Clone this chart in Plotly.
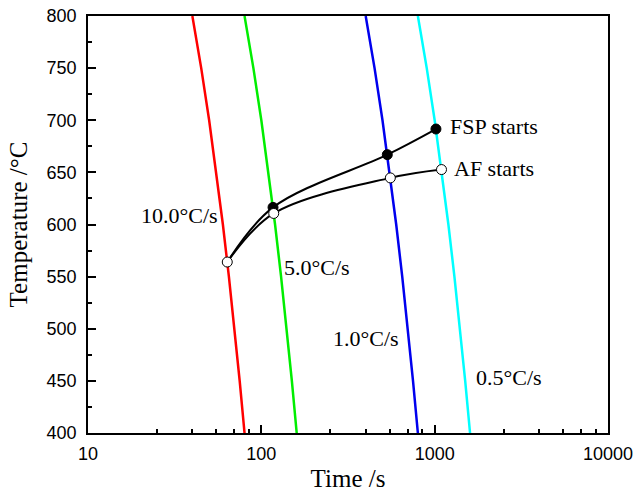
import math
import plotly.graph_objects as go

# Cooling curves: temperature (°C) vs time (s)
temps = [800, 750, 700, 650, 600, 550, 500, 450, 400]
t_10 = [40, 45, 50, 55, 60, 65, 70, 75, 80]
t_5 = [80, 90, 100, 110, 120, 130, 140, 150, 160]
t_1 = [400, 450, 500, 550, 600, 650, 700, 750, 800]
t_05 = [800, 900, 1000, 1100, 1200, 1300, 1400, 1500, 1600]

rate_labels = ["10.0°C/s", "5.0°C/s", "1.0°C/s", "0.5°C/s"]
rate_colors = ["#ff0000", "#00ee00", "#0000ee", "#00ffff"]

# Transformation start points
fsp_t = [63.6, 116.8, 533, 1017]
fsp_T = [564, 616.4, 667, 691.6]
af_t = [63.6, 117.9, 555, 1095]
af_T = [564, 610.6, 644.7, 652.7]

x_tickvals = [10, 100, 1000, 10000]
x_ticktext = ["10", "100", "1000", "10000"]
x_minor = [m * 10 ** e for e in (1, 2, 3) for m in (2.5, 4, 5.5, 7, 8.5)]

fig = go.Figure()
for tt, col in zip([t_10, t_5, t_1, t_05], rate_colors):
    fig.add_trace(go.Scatter(x=tt, y=temps, mode="lines",
                             line=dict(color=col, width=2.5), showlegend=False))

fig.add_trace(go.Scatter(x=fsp_t, y=fsp_T, mode="lines",
                         line=dict(color="black", width=2, shape="spline", smoothing=1),
                         showlegend=False))
fig.add_trace(go.Scatter(x=af_t, y=af_T, mode="lines",
                         line=dict(color="black", width=2, shape="spline", smoothing=1),
                         showlegend=False))
fig.add_trace(go.Scatter(x=fsp_t[1:], y=fsp_T[1:], mode="markers",
                         marker=dict(color="black", size=10, line=dict(color="black", width=1)),
                         showlegend=False))
fig.add_trace(go.Scatter(x=af_t, y=af_T, mode="markers",
                         marker=dict(color="white", size=10, line=dict(color="black", width=1)),
                         showlegend=False))

ann_font = dict(family="Liberation Serif", size=22, color="black")
ann_pos = [(33.5, 609), (209, 559), (404, 491), (2700, 453)]
for txt, (x, y) in zip(rate_labels, ann_pos):
    fig.add_annotation(x=math.log10(x), y=y, text=txt, showarrow=False,
                       xanchor="center", yanchor="middle", font=ann_font)
fig.add_annotation(x=math.log10(1190), y=694, text="FSP starts", showarrow=False,
                   xanchor="left", yanchor="middle", font=ann_font)
fig.add_annotation(x=math.log10(1265), y=654, text="AF starts", showarrow=False,
                   xanchor="left", yanchor="middle", font=ann_font)

tick_font = dict(family="Liberation Sans", size=18, color="black")
title_font = dict(family="Liberation Serif", size=25, color="black")

fig.update_xaxes(type="log", range=[1, 4], tickvals=x_tickvals, ticktext=x_ticktext,
                 ticks="inside", ticklen=8, tickwidth=1.5, tickcolor="black",
                 minor=dict(tickvals=x_minor, ticks="inside", ticklen=4, tickwidth=1.5, tickcolor="black"),
                 showline=True, linecolor="black", linewidth=1.5, mirror=True,
                 showgrid=False, zeroline=False, tickfont=tick_font, automargin=False,
                 ticklabeloverflow="allow",
                 title=dict(text="Time /s", font=title_font, standoff=6),
                 ticklabelstandoff=4)
fig.update_yaxes(range=[400, 800], tick0=400, dtick=50,
                 ticks="inside", ticklen=8, tickwidth=1.5, tickcolor="black",
                 minor=dict(dtick=25, ticks="inside", ticklen=4, tickwidth=1.5, tickcolor="black"),
                 showline=True, linecolor="black", linewidth=1.5, mirror=True,
                 showgrid=False, zeroline=False, tickfont=tick_font, automargin=False,
                 ticklabeloverflow="allow",
                 title=dict(text="Temperature /°C", font=title_font, standoff=12),
                 ticklabelstandoff=6)

fig.update_layout(width=633, height=493, margin=dict(l=88, r=25, t=16, b=60),
                  plot_bgcolor="white", paper_bgcolor="white", showlegend=False,
                  hovermode=False)

fig.write_html("out.html", config={"displayModeBar": False},
               post_script="document.body.style.margin='0';document.body.style.overflow='hidden';")
